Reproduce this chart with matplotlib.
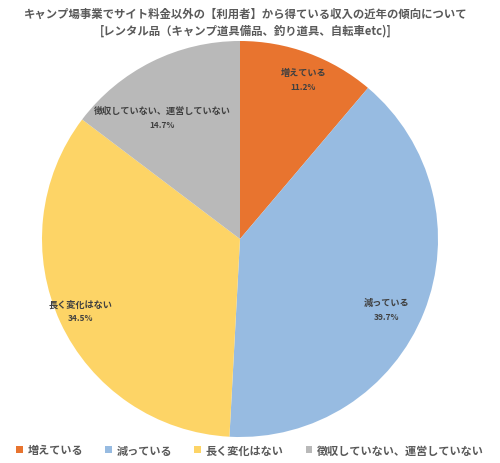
import numpy as np
import matplotlib
matplotlib.use("Agg")
import matplotlib.pyplot as plt
from matplotlib.patches import Patch

plt.rcParams['font.family'] = ['Noto Sans CJK JP', 'DejaVu Sans']

title_lines = ["キャンプ場事業でサイト料金以外の【利用者】から得ている収入の近年の傾向について",
               "[レンタル品（キャンプ道具備品、釣り道具、自転車etc)]"]
categories = ["増えている", "減っている", "長く変化はない", "徴収していない、運営していない"]
shares = [11.2, 39.7, 34.5, 14.7]
colors = ["#E8742F", "#97BBE1", "#FDD466", "#B9B9B9"]
# label placement: distance from centre and angular nudge (degrees) per wedge
label_radius = [0.865, 0.82, 0.885, 0.73]
label_nudge = [-1.5, -4.0, -0.7, 6.3]

fig = plt.figure(figsize=(5.0, 4.64), dpi=100)
ax = fig.add_axes([42 / 500, 26 / 464, 396 / 500, 396 / 464])
wedges, _ = ax.pie(shares, colors=colors, startangle=90, counterclock=False,
                   radius=1.0, wedgeprops=dict(edgecolor="none", linewidth=0))
ax.set_xlim(-1, 1)
ax.set_ylim(-1, 1)
ax.set_aspect("equal")
ax.axis("off")

total = sum(shares)
start = 90.0
for cat, val, r, nd in zip(categories, shares, label_radius, label_nudge):
    sweep = 360.0 * val / total
    mid = np.deg2rad(start - sweep / 2 + nd)
    start -= sweep
    x, y = r * np.cos(mid), r * np.sin(mid)
    ax.text(x, y + 0.035, cat, ha="center", va="center", fontsize=6.6,
            fontweight="bold", color="#404040")
    ax.text(x, y - 0.035, f"{val:.1f}%", ha="center", va="center", fontsize=6.0,
            fontweight="bold", color="#404040")

fig.text(0.492, 1 - 14 / 464, title_lines[0], ha="center", va="center",
         fontsize=8.2, fontweight="bold", color="#595959")
fig.text(0.492, 1 - 31 / 464, title_lines[1], ha="center", va="center",
         fontsize=8.2, fontweight="bold", color="#595959")

handles = [Patch(facecolor=c, edgecolor="none") for c in colors]
fig.legend(handles, categories, loc="center", bbox_to_anchor=(0.5, 1 - 451 / 464),
           ncol=4, frameon=False, handlelength=0.6, handleheight=0.6,
           handletextpad=0.4, columnspacing=2.0,
           prop=dict(weight="bold", size=8))
for t in fig.legends[0].get_texts():
    t.set_color("#595959")

fig.savefig("out.png", dpi=100)
